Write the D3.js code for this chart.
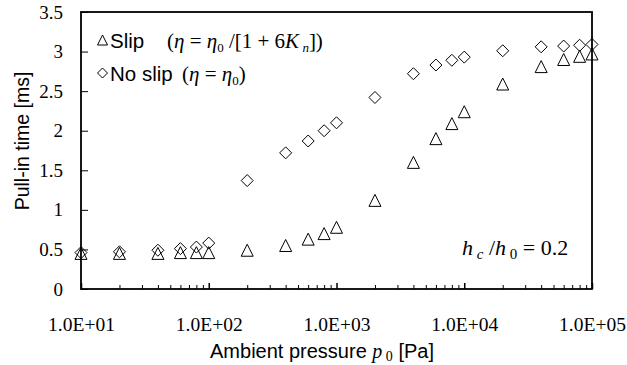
<!DOCTYPE html>
<html><head><meta charset="utf-8">
<script src="https://cdn.jsdelivr.net/npm/d3@7"></script>
<style>
body{margin:0;background:#fff;}
svg{display:block;}
</style></head>
<body>
<svg id="chart" width="627" height="365"></svg>
<script>
// ---- data ----
const pressures = [10,20,40,60,80,100,200,400,600,800,1000,2000,4000,6000,8000,10000,20000,40000,60000,80000,100000];
const slipTimes = [0.45,0.45,0.45,0.46,0.46,0.46,0.49,0.55,0.63,0.70,0.78,1.12,1.60,1.90,2.09,2.24,2.59,2.81,2.90,2.94,2.97];
const noSlipTimes = [0.46,0.47,0.49,0.51,0.53,0.58,1.37,1.72,1.87,2.00,2.10,2.42,2.72,2.83,2.89,2.93,3.01,3.06,3.07,3.08,3.09];
const yTicks = [0,0.5,1,1.5,2,2.5,3,3.5];
const xMajor = [1e1,1e2,1e3,1e4,1e5];
const xLabels = ["1.0E+01","1.0E+02","1.0E+03","1.0E+04","1.0E+05"];

const svg = d3.select("#chart");
const L = 81, R = 592, T = 12, B = 289;
const x = d3.scaleLog().domain([10,1e5]).range([L,R]);
const y = d3.scaleLinear().domain([0,3.5]).range([B,T]);

const serif = "'Liberation Serif','Times New Roman',serif";
const sans = "'Liberation Sans',Arial,sans-serif";

// minor ticks
const xMinor = [];
for (let e=1;e<5;e++) for (let m=2;m<=9;m++) xMinor.push(m*Math.pow(10,e));

// x axis minor ticks
svg.append("g").attr("transform",`translate(0,${B})`)
  .call(d3.axisBottom(x).tickValues(xMinor).tickSize(-4).tickFormat(""))
  .call(g=>g.select(".domain").remove())
  .selectAll("line").attr("stroke","#000").attr("stroke-width",1);

// x axis major ticks & labels
const xAx = svg.append("g").attr("transform",`translate(0,${B})`)
  .call(d3.axisBottom(x).tickValues(xMajor).tickSize(-6).tickPadding(28)
    .tickFormat((d,i)=>xLabels[i]));
xAx.select(".domain").remove();
xAx.selectAll("line").attr("stroke","#000").attr("stroke-width",1.5);
xAx.selectAll("text").attr("font-family",serif).attr("font-size",19.5).attr("fill","#000");

// y axis
const yAx = svg.append("g").attr("transform",`translate(${L},0)`)
  .call(d3.axisLeft(y).tickValues(yTicks).tickSize(-7).tickPadding(18)
    .tickFormat(d3.format("")));
yAx.select(".domain").remove();
yAx.selectAll("line").attr("stroke","#000").attr("stroke-width",1);
yAx.selectAll("text").attr("font-family",serif).attr("font-size",19).attr("fill","#000");

// frame
svg.append("rect").attr("x",L).attr("y",T).attr("width",R-L).attr("height",B-T)
  .attr("fill","none").attr("stroke","#000").attr("stroke-width",1.8);

// markers
function triPath(cx,cy,s){
  const h=s/2;
  return `M${cx},${cy-h}L${cx+h},${cy+h}L${cx-h},${cy+h}Z`;
}
function diaPath(cx,cy,s){
  const h=s/2;
  return `M${cx},${cy-h}L${cx+h},${cy}L${cx},${cy+h}L${cx-h},${cy}Z`;
}
svg.append("g").selectAll("path").data(pressures).join("path")
  .attr("d",(d,i)=>diaPath(x(d),y(noSlipTimes[i]),12))
  .attr("fill","none").attr("stroke","#000").attr("stroke-width",1);
svg.append("g").selectAll("path").data(pressures).join("path")
  .attr("d",(d,i)=>triPath(x(d),y(slipTimes[i]),12))
  .attr("fill","none").attr("stroke","#000").attr("stroke-width",1);

// legend
const lg = svg.append("g");
lg.append("path").attr("d",triPath(102.5,40,10)).attr("fill","none").attr("stroke","#000");
lg.append("path").attr("d",diaPath(102.5,73,10)).attr("fill","none").attr("stroke","#000");

const t1 = lg.append("text").attr("x",110).attr("y",48).attr("font-size",21).attr("fill","#000");
t1.append("tspan").attr("font-family",sans).attr("font-size",20.5).text("Slip");
t1.append("tspan").attr("font-family",serif).attr("x",167).text("(");
t1.append("tspan").attr("font-family",serif).attr("font-style","italic").text("η");
t1.append("tspan").attr("font-family",serif).text(" = ");
t1.append("tspan").attr("font-family",serif).attr("font-style","italic").text("η");
t1.append("tspan").attr("font-family",serif).attr("font-size",13).attr("dy",4).text("0");
t1.append("tspan").attr("font-family",serif).attr("dy",-4).text(" /[1 + 6");
t1.append("tspan").attr("font-family",serif).attr("font-style","italic").text("K");
t1.append("tspan").attr("font-family",serif).attr("font-style","italic").attr("font-size",13).attr("dy",4).text(" n");
t1.append("tspan").attr("font-family",serif).attr("dy",-4).text("])");

const t2 = lg.append("text").attr("x",110).attr("y",81).attr("font-size",21).attr("fill","#000");
t2.append("tspan").attr("font-family",sans).attr("font-size",20.5).text("No slip");
t2.append("tspan").attr("font-family",serif).attr("x",182).text("(");
t2.append("tspan").attr("font-family",serif).attr("font-style","italic").text("η");
t2.append("tspan").attr("font-family",serif).text(" = ");
t2.append("tspan").attr("font-family",serif).attr("font-style","italic").text("η");
t2.append("tspan").attr("font-family",serif).attr("font-size",13).attr("dy",4).text("0");
t2.append("tspan").attr("font-family",serif).attr("dy",-4).text(")");

// annotation
const an = svg.append("text").attr("x",462).attr("y",255).attr("font-size",22).attr("font-family",serif).attr("fill","#000");
an.append("tspan").attr("font-style","italic").text("h");
an.append("tspan").attr("font-style","italic").attr("font-size",15).attr("dy",4).text(" c");
an.append("tspan").attr("dy",-4).text(" /");
an.append("tspan").attr("font-style","italic").text("h");
an.append("tspan").attr("font-size",15).attr("dy",4).text(" 0");
an.append("tspan").attr("dy",-4).text(" = 0.2");

// axis titles
const xt = svg.append("text").attr("x",322).attr("y",358).attr("text-anchor","middle")
  .attr("font-size",20).attr("fill","#000");
xt.append("tspan").attr("font-family",sans).text("Ambient pressure ");
xt.append("tspan").attr("font-family",serif).attr("font-style","italic").text("p");
xt.append("tspan").attr("font-family",serif).attr("font-size",14).attr("dy",3).text(" 0");
xt.append("tspan").attr("font-family",sans).attr("dy",-3).text(" [Pa]");

svg.append("text").attr("transform","translate(29,141) rotate(-90)").attr("text-anchor","middle")
  .attr("font-family",sans).attr("font-size",19.5).attr("fill","#000").text("Pull-in time [ms]");
</script>
</body></html>
